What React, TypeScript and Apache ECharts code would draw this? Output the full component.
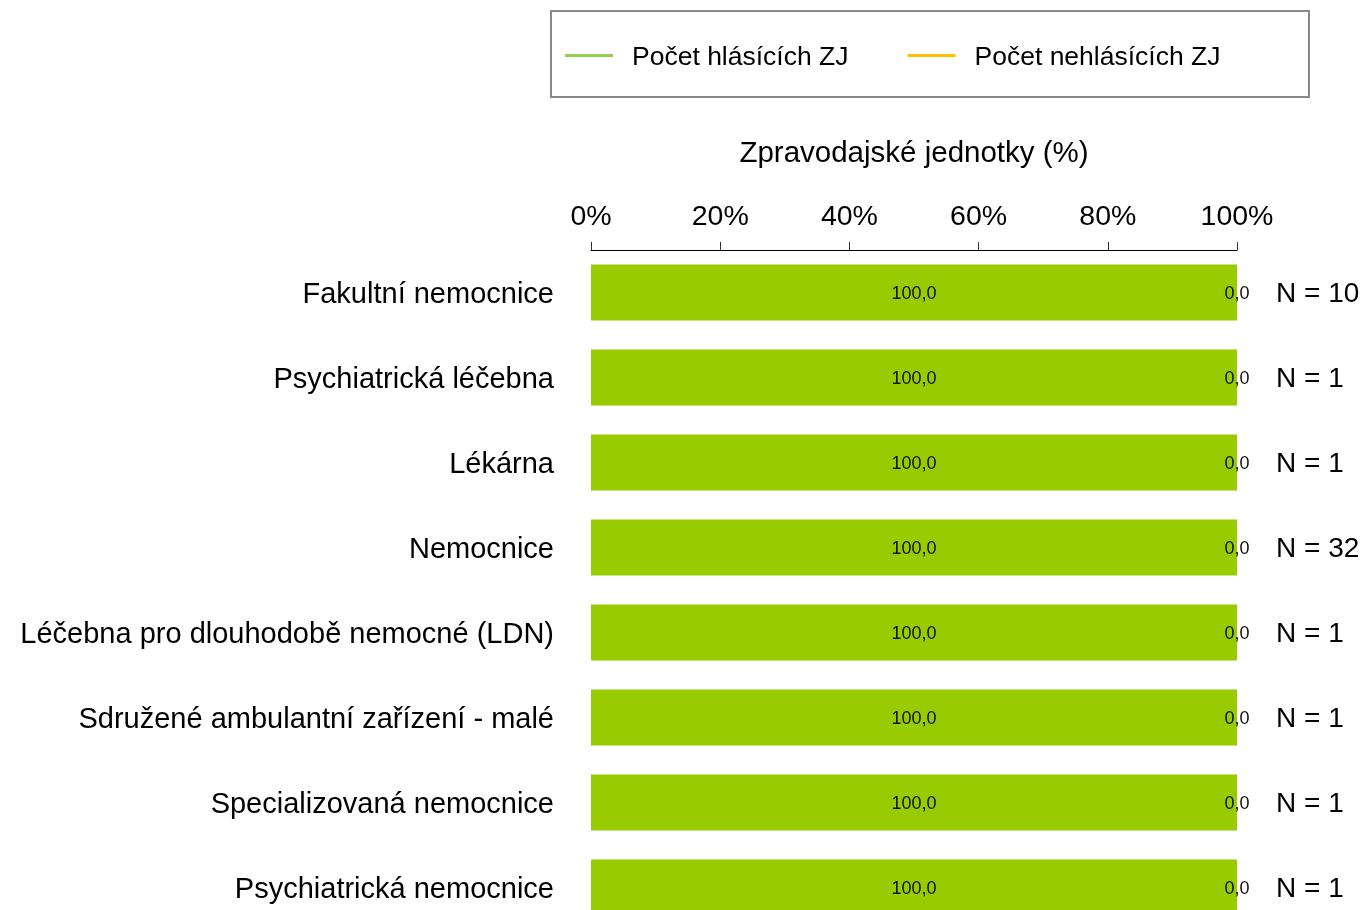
import React, { useEffect, useRef } from "react";
import * as echarts from "echarts";

const categories = [
  "Fakultní nemocnice",
  "Psychiatrická léčebna",
  "Lékárna",
  "Nemocnice",
  "Léčebna pro dlouhodobě nemocné (LDN)",
  "Sdružené ambulantní zařízení - malé",
  "Specializovaná nemocnice",
  "Psychiatrická nemocnice",
];
const reportingPct = [100, 100, 100, 100, 100, 100, 100, 100];
const nonReportingPct = [0, 0, 0, 0, 0, 0, 0, 0];
const nCounts = [10, 1, 1, 32, 1, 1, 1, 1];
const seriesNames = ["Počet hlásících ZJ", "Počet nehlásících ZJ"];
const axisName = "Zpravodajské jednotky (%)";

const FONT = "Liberation Sans";
const fmt = (v: number) => v.toFixed(1).replace(".", ",");

export default function App() {
  const ref = useRef<HTMLDivElement>(null);
  useEffect(() => {
    if (!ref.current) return;
    const chart = echarts.init(ref.current, undefined, { renderer: "svg" });
    const labelCfg = {
      show: true,
      position: "inside",
      formatter: (p: any) => fmt(p.value),
      fontFamily: FONT,
      fontSize: 18,
      color: "#111",
    };
    chart.setOption({
      animation: false,
      textStyle: { fontFamily: FONT },
      graphic: [
        {
          type: "rect",
          shape: { x: 551, y: 11, width: 758, height: 86 },
          style: { fill: "none", stroke: "#888888", lineWidth: 2 },
          silent: true,
        },
      ],
      legend: {
        left: 560,
        top: 37,
        icon: "rect",
        itemWidth: 48,
        itemHeight: 3,
        itemGap: 59,
        textStyle: { fontFamily: FONT, fontSize: 26.5, color: "#000", padding: [0, 0, 0, 14] },
        data: [
          { name: seriesNames[0], itemStyle: { color: "#92d050" } },
          { name: seriesNames[1], itemStyle: { color: "#ffc000" } },
        ],
      },
      grid: { left: 591, top: 250, width: 646, height: 680 },
      xAxis: {
        type: "value",
        position: "top",
        min: 0,
        max: 100,
        interval: 20,
        name: axisName,
        nameLocation: "middle",
        nameGap: 84,
        nameTextStyle: { fontFamily: FONT, fontSize: 29.5, color: "#000" },
        axisLine: { show: true, lineStyle: { color: "#000", width: 1 } },
        axisTick: { show: true, length: 8, lineStyle: { color: "#333" } },
        axisLabel: { formatter: "{value}%", fontFamily: FONT, fontSize: 28.5, color: "#000", margin: 21 },
        splitLine: { show: false },
      },
      yAxis: [
        {
          type: "category",
          data: categories,
          inverse: true,
          axisLine: { show: false },
          axisTick: { show: false },
          axisLabel: { fontFamily: FONT, fontSize: 29, color: "#000", margin: 37 },
        },
        {
          type: "category",
          data: nCounts.map((n) => `N = ${n}`),
          inverse: true,
          position: "right",
          axisLine: { show: false },
          axisTick: { show: false },
          axisLabel: { fontFamily: FONT, fontSize: 28, color: "#000", margin: 39 },
        },
      ],
      series: [
        {
          name: seriesNames[0],
          type: "bar",
          stack: "total",
          data: reportingPct,
          barWidth: 56,
          itemStyle: { color: "#99cc00" },
          label: labelCfg,
        },
        {
          name: seriesNames[1],
          type: "bar",
          stack: "total",
          data: nonReportingPct,
          barWidth: 56,
          itemStyle: { color: "#ffc000" },
          label: labelCfg,
        },
      ],
    });
    return () => chart.dispose();
  }, []);
  return (
    <div
      style={{ position: "fixed", left: 0, top: 0, width: 1369, height: 910, overflow: "hidden" }}
    >
      <div ref={ref} style={{ width: 1369, height: 950 }} />
    </div>
  );
}
